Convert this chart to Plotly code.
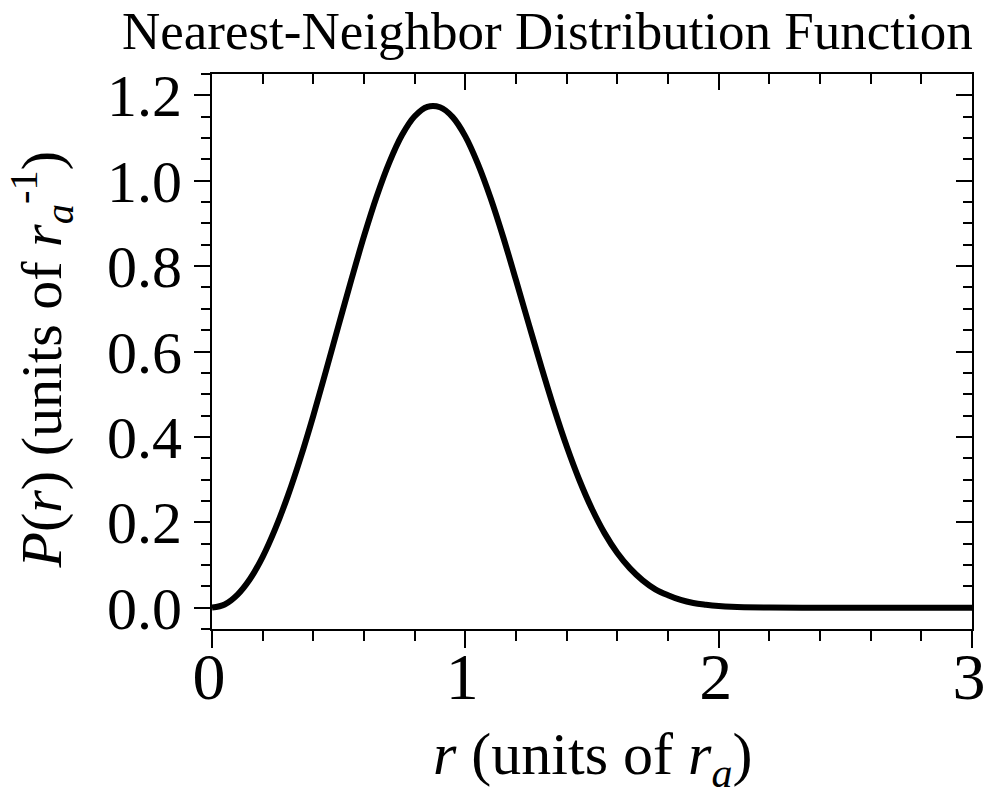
import plotly.graph_objects as go

# Nearest-neighbor distribution P(r), sampled along r (units of r_a)
r_vals = [0.0, 0.05, 0.1, 0.15, 0.2, 0.25, 0.3, 0.35, 0.4, 0.45, 0.5, 0.55,
          0.6, 0.65, 0.7, 0.75, 0.8, 0.85, 0.9, 0.95, 1.0, 1.05, 1.1, 1.15,
          1.2, 1.25, 1.3, 1.35, 1.4, 1.45, 1.5, 1.55, 1.6, 1.65, 1.7, 1.75,
          1.8, 1.85, 1.9, 1.95, 2.0, 2.05, 2.1, 2.2, 2.4, 2.6, 2.8, 3.0]
p_vals = [0.0, 0.0075, 0.030, 0.067, 0.119, 0.185, 0.263, 0.352, 0.450,
          0.555, 0.662, 0.768, 0.870, 0.963, 1.043, 1.107, 1.151, 1.173,
          1.172, 1.149, 1.104, 1.039, 0.959, 0.867, 0.767, 0.665, 0.564,
          0.467, 0.378, 0.299, 0.231, 0.174, 0.128, 0.092, 0.064, 0.043,
          0.029, 0.018, 0.011, 0.007, 0.004, 0.002, 0.001, 0.0003, 0.0,
          0.0, 0.0, 0.0]

x_ticks = [0, 1, 2, 3]
y_ticks = [0.0, 0.2, 0.4, 0.6, 0.8, 1.0, 1.2]
y_tick_text = ["0.0", "0.2", "0.4", "0.6", "0.8", "1.0", "1.2"]

FONT = "Liberation Serif"

fig = go.Figure()
fig.add_trace(go.Scatter(
    x=r_vals, y=p_vals, mode="lines",
    line=dict(color="black", width=6, shape="spline", smoothing=1.0),
    showlegend=False, hoverinfo="skip",
))
# invisible trace to activate the mirrored top/right axes
fig.add_trace(go.Scatter(x=[0], y=[0], xaxis="x2", yaxis="y2",
                         mode="markers", marker=dict(opacity=0),
                         showlegend=False, hoverinfo="skip"))

axis_common = dict(showgrid=False, zeroline=False, linecolor="black",
                   linewidth=2, tickcolor="black", tickwidth=2,
                   automargin=False)

fig.update_layout(
    width=986, height=796,
    margin=dict(l=212, r=14, t=74, b=167),
    paper_bgcolor="white", plot_bgcolor="white",
    font=dict(family=FONT, color="black"),
    xaxis=dict(
        range=[0, 3], tickvals=x_ticks, ticks="outside", ticklen=17,
        tickfont=dict(size=66, family=FONT), showline=True,
        ticklabeloverflow="allow", ticklabelstandoff=-28, ticklabelshift=-3,
        minor=dict(dtick=0.2, ticks="outside", ticklen=10, tickwidth=2,
                   tickcolor="black", showgrid=False),
        **axis_common,
    ),
    yaxis=dict(
        range=[-0.05, 1.25], tickvals=y_ticks, ticktext=y_tick_text,
        ticks="outside", ticklen=16, tickfont=dict(size=60, family=FONT),
        showline=True,
        minor=dict(dtick=0.05, tick0=0, ticks="outside", ticklen=9,
                   tickwidth=2, tickcolor="black", showgrid=False),
        **axis_common,
    ),
    xaxis2=dict(
        range=[0, 3], overlaying="x", side="top", tickvals=x_ticks,
        ticks="inside", ticklen=16, showticklabels=False, showline=True,
        minor=dict(dtick=0.2, ticks="inside", ticklen=10, tickwidth=2,
                   tickcolor="black", showgrid=False),
        **axis_common,
    ),
    yaxis2=dict(
        range=[-0.05, 1.25], overlaying="y", side="right", tickvals=y_ticks,
        ticks="inside", ticklen=16, showticklabels=False, showline=True,
        minor=dict(dtick=0.05, tick0=0, ticks="inside", ticklen=9,
                   tickwidth=2, tickcolor="black", showgrid=False),
        **axis_common,
    ),
    annotations=[
        dict(text="Nearest-Neighbor Distribution Function",
             xref="paper", yref="paper", x=1.004, y=1, xanchor="right",
             yanchor="bottom", yshift=12, showarrow=False,
             font=dict(size=53, family=FONT, color="black")),
        # x-axis title
        dict(text="<i>r</i> (units of <i>r</i><sub><i>a</i></sub>)",
             xref="paper", yref="paper", x=0.5, y=0, xanchor="center",
             yanchor="top", yshift=-90, showarrow=False,
             font=dict(size=60, family=FONT, color="black")),
        # y-axis title
        dict(text="<i>P</i>(<i>r</i>) (units of <i>r</i><sub><i>a</i></sub><sup>-1</sup>)",
             xref="paper", yref="paper", x=0, y=0.5, xanchor="right",
             yanchor="middle", xshift=-128, yshift=-8, textangle=-90,
             showarrow=False,
             font=dict(size=58, family=FONT, color="black")),
    ],
)

fig.write_html("out.html")
